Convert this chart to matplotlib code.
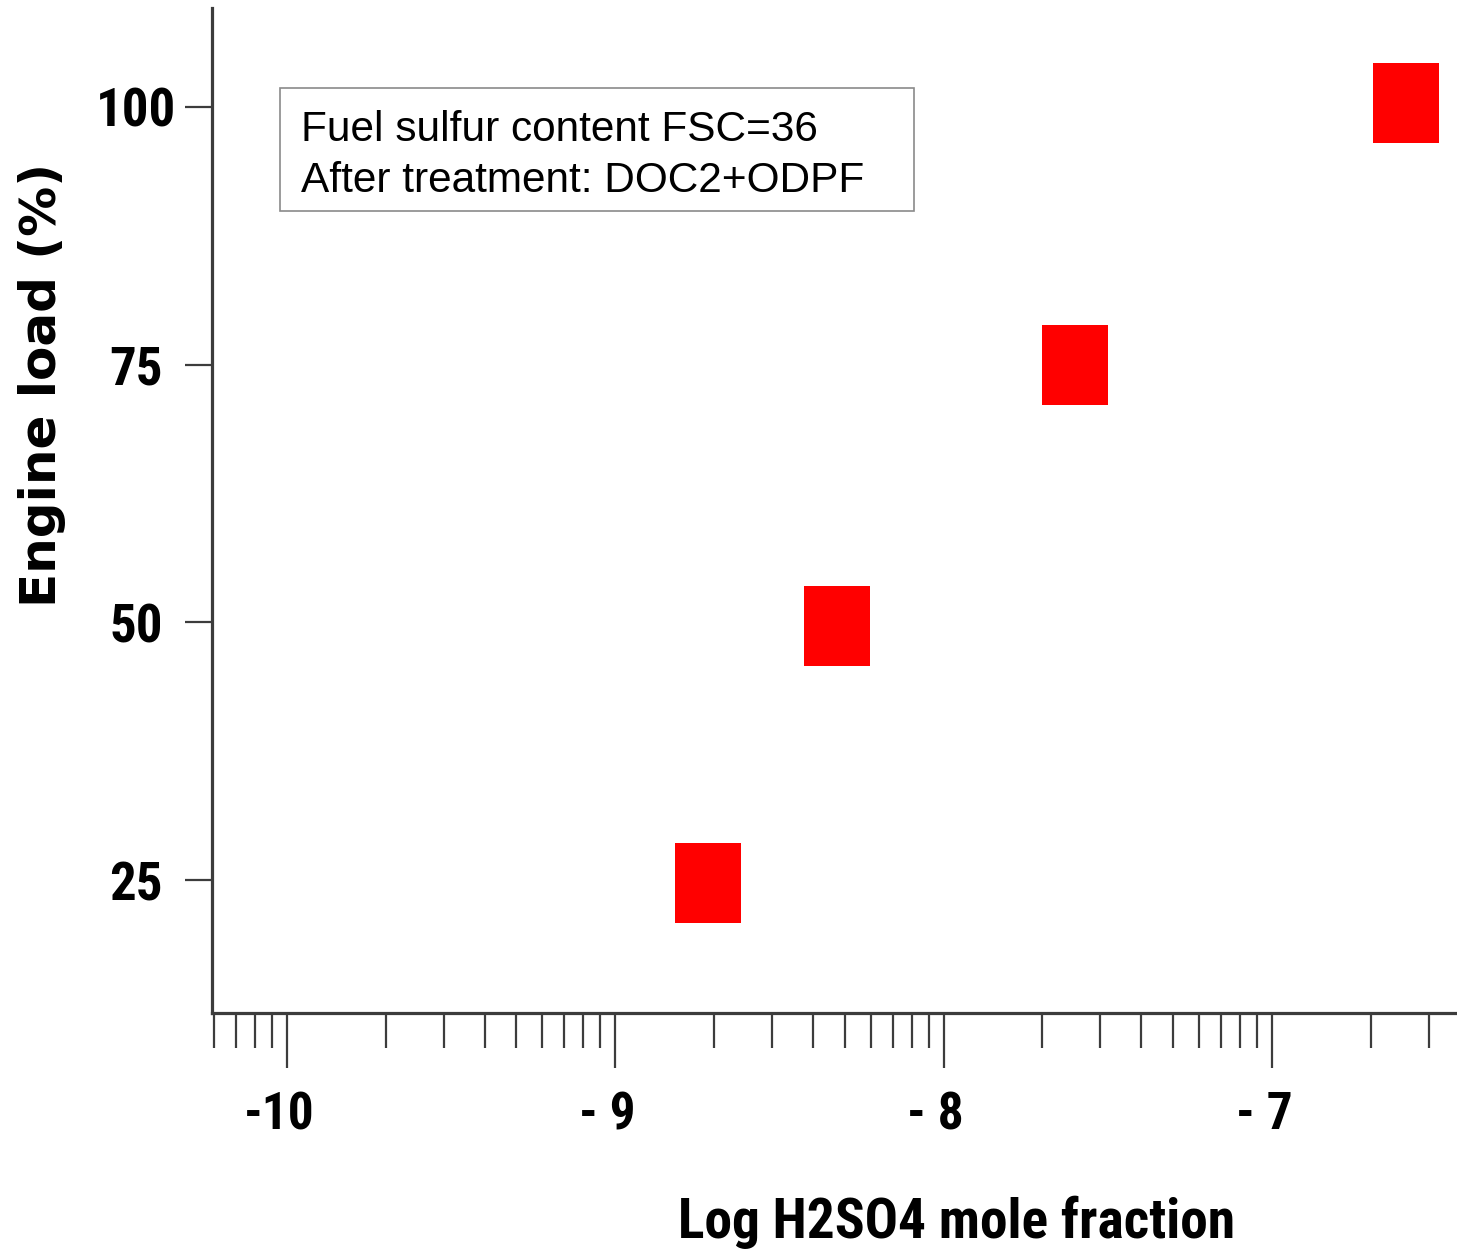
import matplotlib
matplotlib.use('Agg')
import matplotlib.pyplot as plt
import numpy as np
from matplotlib.path import Path
from matplotlib.patches import Rectangle
from matplotlib import font_manager
from matplotlib.font_manager import FontProperties
import matplotlib.transforms as mtransforms

# ---- data ----
log_h2so4 = [-8.716, -8.325, -7.601, -6.593]
engine_load = [24.7, 49.6, 75.0, 100.4]
x_major = [-10, -9, -8, -7]
x_major_labels = ['-10', '- 9', '- 8', '- 7']
y_major = [25, 50, 75, 100]
y_major_labels = ['25', '50', '75', '100']
annotation_lines = ['Fuel sulfur content FSC=36', 'After treatment: DOC2+ODPF']
x_label = 'Log H2SO4 mole fraction'
y_label = 'Engine load (%)'


def _w(f):
    w = f.weight
    if isinstance(w, str):
        return {'bold': 700, 'heavy': 800, 'black': 900, 'semibold': 600,
                'demibold': 600, 'normal': 400, 'regular': 400, 'medium': 500}.get(w, 400)
    return w


def _cond(f):
    s = f.stretch
    if 'Narrow' in f.name or 'Condensed' in f.name or 'Narrow' in f.fname or 'Condensed' in f.fname:
        return True
    if isinstance(s, str):
        return 'condensed' in s
    return s < 500


cands = [f for f in font_manager.fontManager.ttflist if _cond(f) and _w(f) >= 600
         and 'Oblique' not in f.fname and 'Italic' not in f.fname]
pref = ['Liberation Sans Narrow', 'Roboto Condensed', 'Open Sans', 'Noto Sans', 'DejaVu Sans']
chosen = None
for p in pref:
    for f in cands:
        if f.name.startswith(p):
            chosen = f
            break
    if chosen:
        break
if chosen is None and cands:
    chosen = cands[0]

if chosen is not None:
    def narrow_fp(size):
        return FontProperties(fname=chosen.fname, size=size)
else:
    def narrow_fp(size):
        return FontProperties(family='Liberation Sans', weight='bold', size=size * 0.85)

regular = 'Liberation Sans'

W, H = 1457, 1252
fig = plt.figure(figsize=(W / 100, H / 100), dpi=100)
ax_l, ax_r, ax_b, ax_t = 212, 1457, 1013, 8
ax = fig.add_axes([ax_l / W, (H - ax_b) / H, (ax_r - ax_l) / W, (ax_b - ax_t) / H])

xlim = (-10.228, -6.4365)
ylim = (12.1, 109.6)
ax.set_xlim(*xlim)
ax.set_ylim(*ylim)

# rectangular marker (taller than wide)
mw, mh = 66 / 2, 80.5 / 2
verts = [(-mw, -mh), (mw, -mh), (mw, mh), (-mw, mh), (-mw, -mh)]
rect_marker = Path(verts, [Path.MOVETO, Path.LINETO, Path.LINETO, Path.LINETO, Path.CLOSEPOLY])
ax.plot(log_h2so4, engine_load, linestyle='none', marker=rect_marker,
        markersize=80.5 * 72 / 100, markerfacecolor='#ff0000', markeredgewidth=0,
        clip_on=False)

# spines
for s in ['top', 'right']:
    ax.spines[s].set_visible(False)
spine_col = '#3c3c3c'
for s in ['left', 'bottom']:
    ax.spines[s].set_color(spine_col)
    ax.spines[s].set_linewidth(2.3)

# y ticks
ax.set_yticks(y_major)
ax.set_yticklabels(y_major_labels, fontproperties=narrow_fp(38))
ax.tick_params(axis='y', which='major', direction='out', length=19.5, width=1.6,
               color=spine_col, pad=35)
for lab in ax.get_yticklabels():
    lab.set_horizontalalignment('center')

# x ticks (log-style minor ticks)
minor = []
for d in range(-11, -6):
    for k in range(2, 10):
        v = d + np.log10(k)
        if xlim[0] <= v <= xlim[1]:
            minor.append(v)
ax.set_xticks(x_major)
ax.set_xticks(minor, minor=True)
ax.set_xticklabels(x_major_labels, fontproperties=narrow_fp(37))
ax.tick_params(axis='x', which='major', direction='out', length=39.5, width=1.6,
               color=spine_col, pad=16)
ax.tick_params(axis='x', which='minor', direction='out', length=25, width=1.6,
               color=spine_col)
off = mtransforms.ScaledTranslation(-8 / 100, 0, fig.dpi_scale_trans)
for lab in ax.get_xticklabels():
    lab.set_transform(lab.get_transform() + off)

# axis labels
ax.set_xlabel(x_label, fontproperties=narrow_fp(40))
ax.xaxis.set_label_coords((957 - ax_l) / (ax_r - ax_l), (ax_b - 1222) / (ax_b - ax_t))
ax.xaxis.label.set_verticalalignment('center')

ax.set_ylabel(y_label, family='DejaVu Sans', fontweight='bold', fontsize=36)
ax.yaxis.set_label_coords((42 - ax_l) / (ax_r - ax_l), (ax_b - 385) / (ax_b - ax_t))
ax.yaxis.label.set_verticalalignment('center')
ax.yaxis.label.set_horizontalalignment('center')

# annotation box
bx0, bx1, by0, by1 = 280, 914, 88, 211
fig.patches.append(Rectangle((bx0 / W, (H - by1) / H), (bx1 - bx0) / W, (by1 - by0) / H,
                             transform=fig.transFigure, fill=False,
                             edgecolor='#8a8a8a', linewidth=1.2, zorder=5))
baselines = [141, 192]
for line, yb in zip(annotation_lines, baselines):
    fig.text(301 / W, (H - yb) / H, line, family=regular, fontsize=30.5,
             ha='left', va='baseline', color='black')

fig.savefig('out.png', dpi=100, facecolor='white')
